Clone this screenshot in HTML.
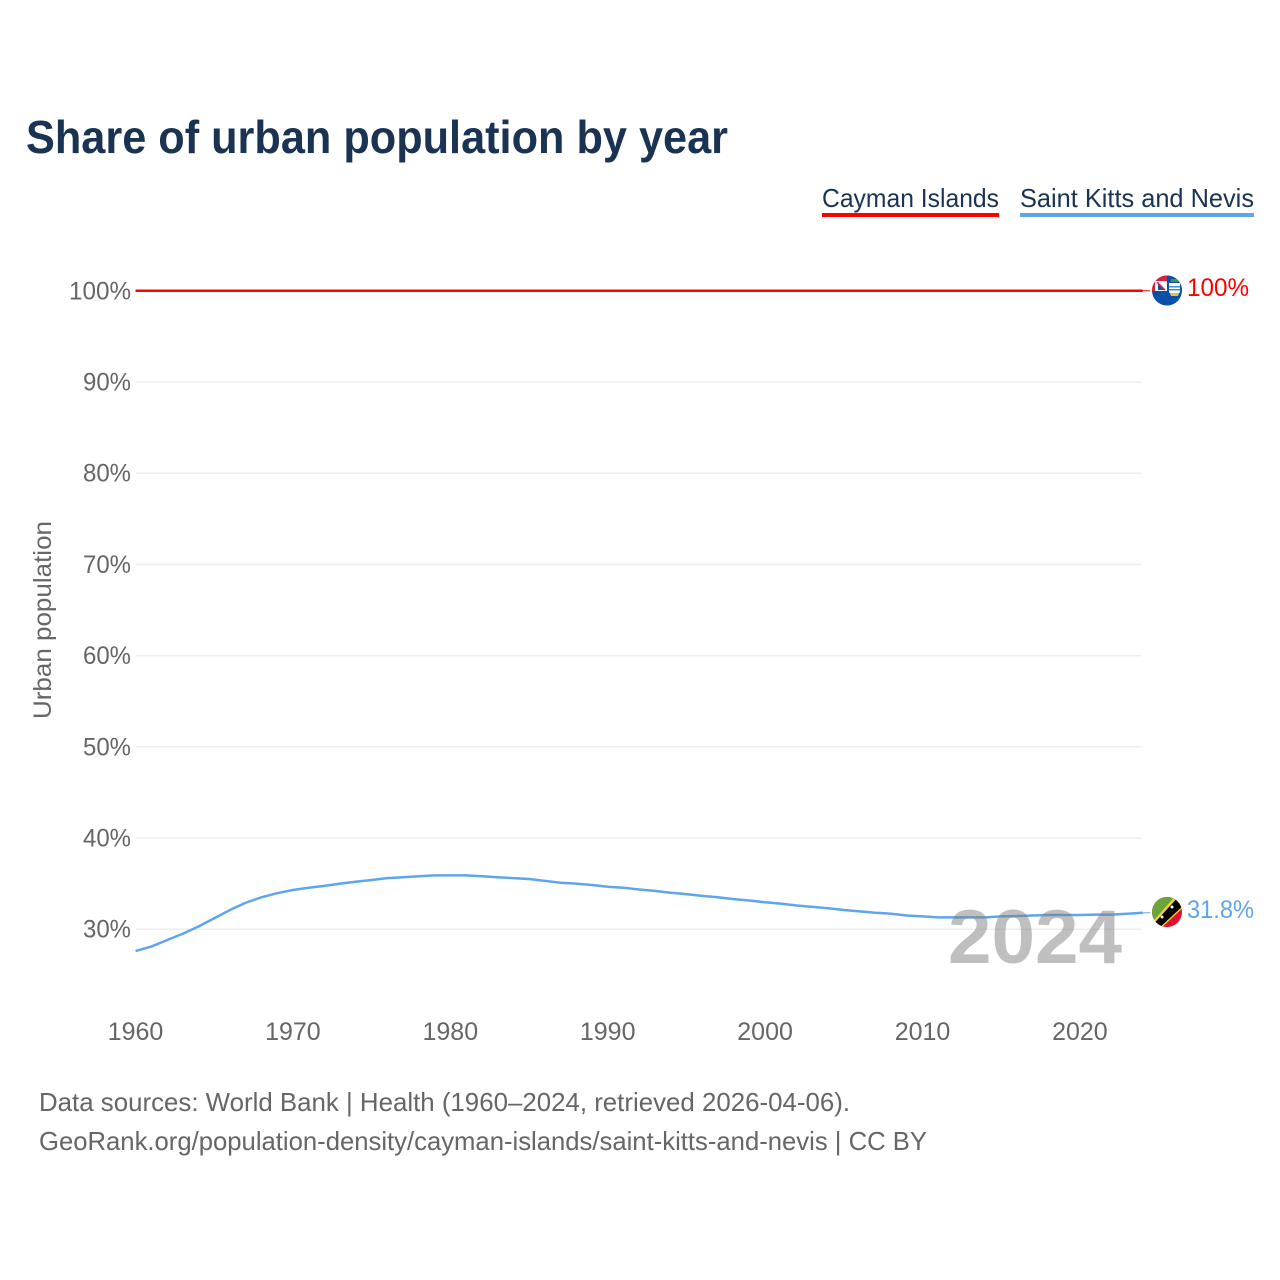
<!DOCTYPE html>
<html lang="en">
<head>
<meta charset="utf-8">
<title>Share of urban population by year</title>
<style>
html,body{margin:0;padding:0;background:#fff;width:1280px;height:1280px;overflow:hidden}
svg{display:block;font-family:"Liberation Sans",sans-serif}
</style>
</head>
<body>
<svg id="chart" width="1280" height="1280" viewBox="0 0 1280 1280" xmlns="http://www.w3.org/2000/svg">
<defs>
<clipPath id="flag-clip-ky"><circle cx="1167" cy="290.5" r="15"/></clipPath>
<clipPath id="flag-clip-kn"><circle cx="1167" cy="912" r="15"/></clipPath>
</defs>
<text x="26" y="153" font-size="46" font-weight="700" fill="#1a3353" textLength="702" lengthAdjust="spacingAndGlyphs">Share of urban population by year</text>

<g>
<text x="822" y="207" font-size="26" fill="#1a3353" textLength="177" lengthAdjust="spacingAndGlyphs">Cayman Islands</text>
<rect x="822" y="213" width="177" height="4" fill="#ff0000"/>
</g>
<g>
<text x="1020" y="207" font-size="26" fill="#1a3353" textLength="234" lengthAdjust="spacingAndGlyphs">Saint Kitts and Nevis</text>
<rect x="1020" y="213" width="234" height="4" fill="#5fa5ee"/>
</g>

<g id="grid"></g>
<g id="yticks"></g>
<g id="xticks"></g>
<g id="series"></g>

<text transform="translate(51,620) rotate(-90)" text-anchor="middle" font-size="25" fill="#666" textLength="198" lengthAdjust="spacingAndGlyphs">Urban population</text>

<text x="1035" y="963" text-anchor="middle" font-size="76" font-weight="700" fill="#808080" fill-opacity="0.5" textLength="174" lengthAdjust="spacingAndGlyphs">2024</text>

<g clip-path="url(#flag-clip-ky)">
<rect x="1152" y="275" width="30" height="31" fill="#0b50a8"/>
<rect x="1152" y="275" width="15" height="16" fill="#d8203a"/>
<rect x="1155" y="281" width="12" height="10" fill="#fff"/>
<path d="M1158 283 L1164 290 L1158 290 Z" fill="#1f4f9c"/>
<path d="M1157 282 L1165 290" stroke="#d8203a" stroke-width="1.500"/>
<rect x="1167" y="275" width="15" height="16" fill="#0b50a8"/>
<path d="M1169 283 h11 v9 q-5.500 8 -11 0 z" fill="#fff"/>
<rect x="1169" y="286" width="11" height="1.500" fill="#3d8fd0"/>
<rect x="1169" y="289" width="11" height="1.500" fill="#3d8fd0"/>
<path d="M1170 293 h9 l-1 3 h-7 z" fill="#e6c23a"/>
<rect x="1171" y="279" width="7" height="3" fill="#3c9b4a"/>
</g>
<g clip-path="url(#flag-clip-kn)">
<rect x="1152" y="897" width="30" height="30" fill="#e0102f"/>
<path d="M1152 897 H1182 L1152 927 Z" fill="#6ba53a"/>
<path d="M1148 927 L1178 893 L1188 903 L1158 931 Z" fill="#f3d02e"/>
<path d="M1150 928 L1179 896 L1186 903 L1157 930 Z" fill="#000"/>
<circle cx="1162" cy="917" r="1.500" fill="#fff"/>
<circle cx="1172" cy="907" r="1.500" fill="#fff"/>
</g>

<text x="1187" y="296" font-size="25" fill="#ff0000" textLength="62" lengthAdjust="spacingAndGlyphs">100%</text>
<text x="1187" y="918" font-size="25" fill="#5fa5ee" textLength="67" lengthAdjust="spacingAndGlyphs">31.8%</text>

<text x="39" y="1111" font-size="26" fill="#666" textLength="811" lengthAdjust="spacingAndGlyphs">Data sources: World Bank | Health (1960–2024, retrieved 2026-04-06).</text>
<text x="39" y="1150" font-size="26" fill="#666" textLength="888" lengthAdjust="spacingAndGlyphs">GeoRank.org/population-density/cayman-islands/saint-kitts-and-nevis | CC BY</text>
</svg>
<script>
var years = [1960,1961,1962,1963,1964,1965,1966,1967,1968,1969,1970,1971,1972,1973,1974,1975,1976,1977,1978,1979,1980,1981,1982,1983,1984,1985,1986,1987,1988,1989,1990,1991,1992,1993,1994,1995,1996,1997,1998,1999,2000,2001,2002,2003,2004,2005,2006,2007,2008,2009,2010,2011,2012,2013,2014,2015,2016,2017,2018,2019,2020,2021,2022,2023,2024];
var caymanValues = [100,100,100,100,100,100,100,100,100,100,100,100,100,100,100,100,100,100,100,100,100,100,100,100,100,100,100,100,100,100,100,100,100,100,100,100,100,100,100,100,100,100,100,100,100,100,100,100,100,100,100,100,100,100,100,100,100,100,100,100,100,100,100,100,100];
var kittsValues = [27.6,28.1,28.8,29.5,30.3,31.2,32.1,32.9,33.5,33.95,34.3,34.55,34.75,35.0,35.2,35.4,35.6,35.7,35.8,35.9,35.9,35.9,35.8,35.7,35.6,35.5,35.3,35.1,35.0,34.85,34.65,34.55,34.35,34.2,34.0,33.85,33.65,33.5,33.3,33.15,32.95,32.8,32.6,32.45,32.3,32.1,31.95,31.8,31.7,31.5,31.4,31.3,31.3,31.3,31.3,31.4,31.45,31.5,31.55,31.55,31.55,31.6,31.6,31.7,31.8];
var yTicks = [30,40,50,60,70,80,90,100];
var xTicks = [1960,1970,1980,1990,2000,2010,2020];

var NS = 'http://www.w3.org/2000/svg';
function xScale(year){ return 135.5 + (year - 1960) * 15.74; }
function yScale(v){ return 929.2 - (v - 30) * 9.12; }
function pathFor(vals){
  var d = '';
  for (var i = 0; i < vals.length; i++) {
    d += (i ? 'L' : 'M') + xScale(years[i]).toFixed(2) + ' ' + yScale(vals[i]).toFixed(2);
  }
  return d;
}

var grid = document.getElementById('grid');
var yG = document.getElementById('yticks');
var xG = document.getElementById('xticks');
var seriesG = document.getElementById('series');

yTicks.forEach(function(t){
  var y = yScale(t);
  var label = t + '%';
  var l = document.createElementNS(NS, 'line');
  
  
  l.setAttribute('x1', 136); l.setAttribute('x2', 1141);
  l.setAttribute('y1', y); l.setAttribute('y2', y);
  l.setAttribute('stroke', '#eeeeee'); l.setAttribute('stroke-width', 1.5);
  grid.appendChild(l);
  var s = document.createElementNS(NS, 'text');
  
  
  s.setAttribute('x', 131); s.setAttribute('y', y + 8.5);
  s.setAttribute('text-anchor', 'end');
  s.setAttribute('font-size', 25); s.setAttribute('fill', '#666');
  s.setAttribute('textLength', 6 + 14 * label.length);
  s.setAttribute('lengthAdjust', 'spacingAndGlyphs');
  s.textContent = label;
  yG.appendChild(s);
});

xTicks.forEach(function(t){
  var s = document.createElementNS(NS, 'text');
  
  
  s.setAttribute('x', xScale(t)); s.setAttribute('y', 1040);
  s.setAttribute('text-anchor', 'middle');
  s.setAttribute('font-size', 25); s.setAttribute('fill', '#666');
  s.textContent = t;
  xG.appendChild(s);
});

function drawSeries(vals, color, width, name){
  var p = document.createElementNS(NS, 'path');
  
  
  p.setAttribute('d', pathFor(vals));
  p.setAttribute('fill', 'none');
  p.setAttribute('stroke', color);
  p.setAttribute('stroke-width', width);
  p.setAttribute('stroke-linejoin', 'round');
  seriesG.appendChild(p);
  var last = vals.length - 1;
  var c = document.createElementNS(NS, 'line');
  
  
  c.setAttribute('x1', xScale(years[last])); c.setAttribute('x2', 1150);
  c.setAttribute('y1', yScale(vals[last])); c.setAttribute('y2', yScale(vals[last]));
  c.setAttribute('stroke', color); c.setAttribute('stroke-width', 1);
  seriesG.appendChild(c);
}
drawSeries(caymanValues, '#ff0000', 2.5, 'line-cayman-islands');
drawSeries(kittsValues, '#5fa5ee', 2.5, 'line-saint-kitts-and-nevis');
</script>
</body>
</html>
